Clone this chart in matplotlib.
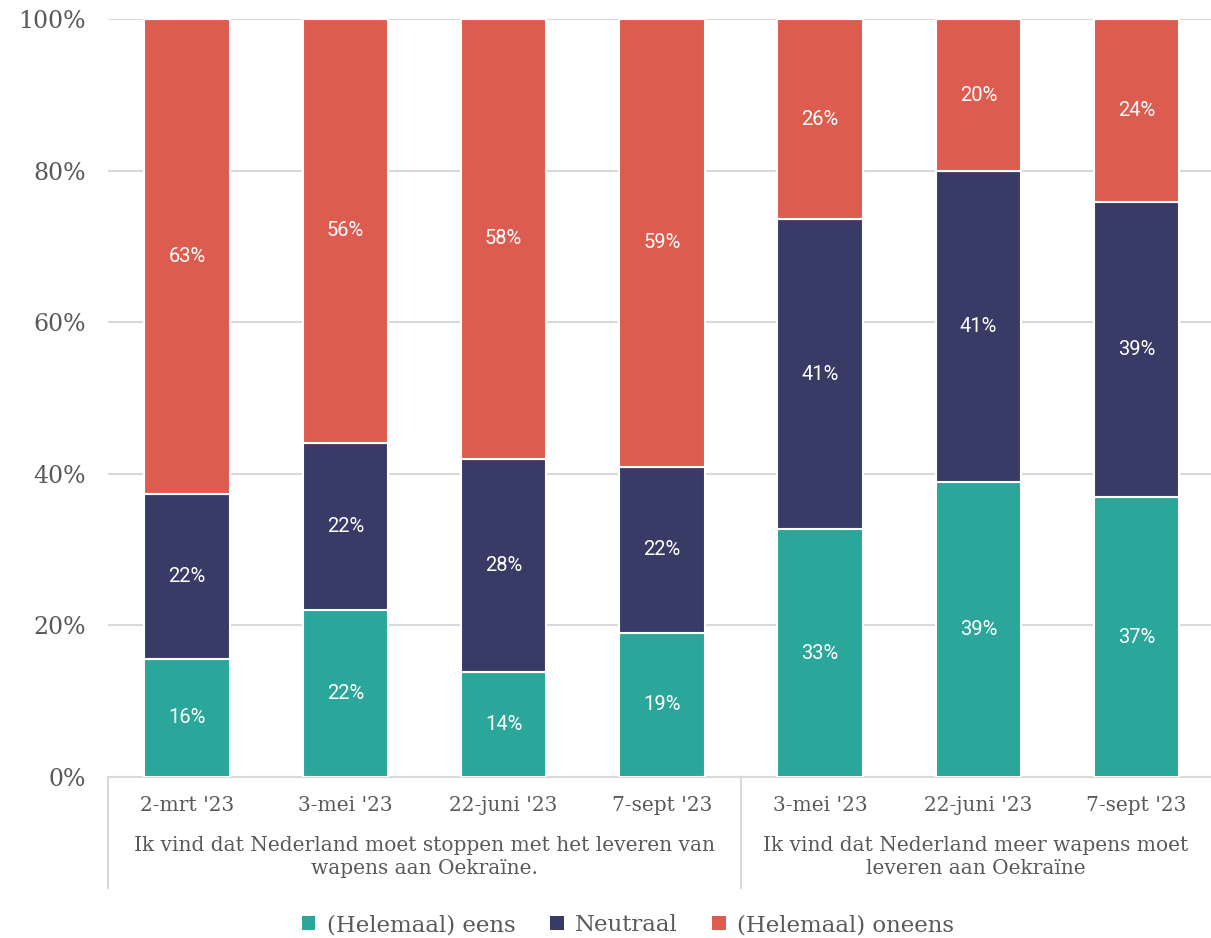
import matplotlib.pyplot as plt
from matplotlib.lines import Line2D
from matplotlib.patches import Patch
import numpy as np

# data
dates = ["2-mrt '23", "3-mei '23", "22-juni '23", "7-sept '23",
         "3-mei '23", "22-juni '23", "7-sept '23"]
groups = ["Ik vind dat Nederland moet stoppen met het leveren van\nwapens aan Oekraïne.",
          "Ik vind dat Nederland meer wapens moet\nleveren aan Oekraïne"]
group_sizes = [4, 3]
eens = [15.6, 22.0, 13.9, 19.0, 32.7, 38.9, 36.9]
neutraal = [21.8, 22.1, 28.1, 21.9, 40.9, 41.0, 39.0]
oneens = [62.6, 55.9, 58.0, 59.1, 26.4, 20.1, 24.1]
series_names = ['(Helemaal) eens', 'Neutraal', '(Helemaal) oneens']
colors = ['#2aa69a', '#383b66', '#dd5c50']

TEXT = '#595959'
SERIF = 'DejaVu Serif'

fig = plt.figure(figsize=(12.11, 9.38), dpi=100)
W, H = 1211, 938
ax = fig.add_axes([108 / W, (H - 777) / H, (W - 108) / W, (777 - 19) / H])

x = np.arange(len(dates))
bottom = np.zeros(len(dates))
for vals, col in zip([eens, neutraal, oneens], colors):
    vals = np.array(vals)
    ax.bar(x, vals, bottom=bottom, width=0.54, color=col,
           edgecolor='white', linewidth=1.5, zorder=3)
    for xi, b, v in zip(x, bottom, vals):
        ax.text(xi, b + v / 2, f'{round(v):.0f}%', ha='center', va='center',
                color='white', fontsize=14.5, family='Roboto', zorder=4)
    bottom += vals

ax.set_xlim(-0.5, 6.47)
ax.set_ylim(0, 100)
ax.set_yticks(range(0, 101, 20))
ax.set_yticklabels([f'{v}%' for v in range(0, 101, 20)], family=SERIF,
                   fontsize=17, color=TEXT)
ax.yaxis.grid(True, color='#d9d9d9', linewidth=1.5, zorder=0)
ax.set_axisbelow(True)
ax.tick_params(axis='y', length=0, pad=16)
ax.tick_params(axis='x', length=0, pad=14)
ax.set_xticks(x)
ax.set_xticklabels(dates, family=SERIF, fontsize=14.5, color=TEXT)
for s in ['top', 'right', 'left']:
    ax.spines[s].set_visible(False)
ax.spines['bottom'].set_color('#d9d9d9')
ax.spines['bottom'].set_linewidth(1.5)

# group separators and labels
bounds = [-0.5]
for n in group_sizes:
    bounds.append(bounds[-1] + n)
trans = ax.get_xaxis_transform()
line_bottom = -(888 - 777) / (777 - 19)
for bx in bounds[:-1]:
    ax.add_line(Line2D([bx, bx], [0, line_bottom], transform=trans,
                       color='#d9d9d9', linewidth=1.5, clip_on=False))
for i, g in enumerate(groups):
    cx = (bounds[i] + min(bounds[i + 1], 6.47)) / 2
    ax.text(cx, -(857 - 777) / (777 - 19), g, transform=trans, ha='center',
            va='center', family=SERIF, fontsize=14.5, color=TEXT,
            linespacing=1.25)

handles = [Patch(facecolor=c, edgecolor='none') for c in colors]
fig.legend(handles, series_names, loc='center', bbox_to_anchor=(628 / W, (H - 925) / H),
           ncol=3, frameon=False, handlelength=0.6, handleheight=0.6,
           handletextpad=0.5, columnspacing=1.5,
           prop={'family': SERIF, 'size': 16.5}, labelcolor=TEXT)

fig.savefig('out.png', dpi=100)
